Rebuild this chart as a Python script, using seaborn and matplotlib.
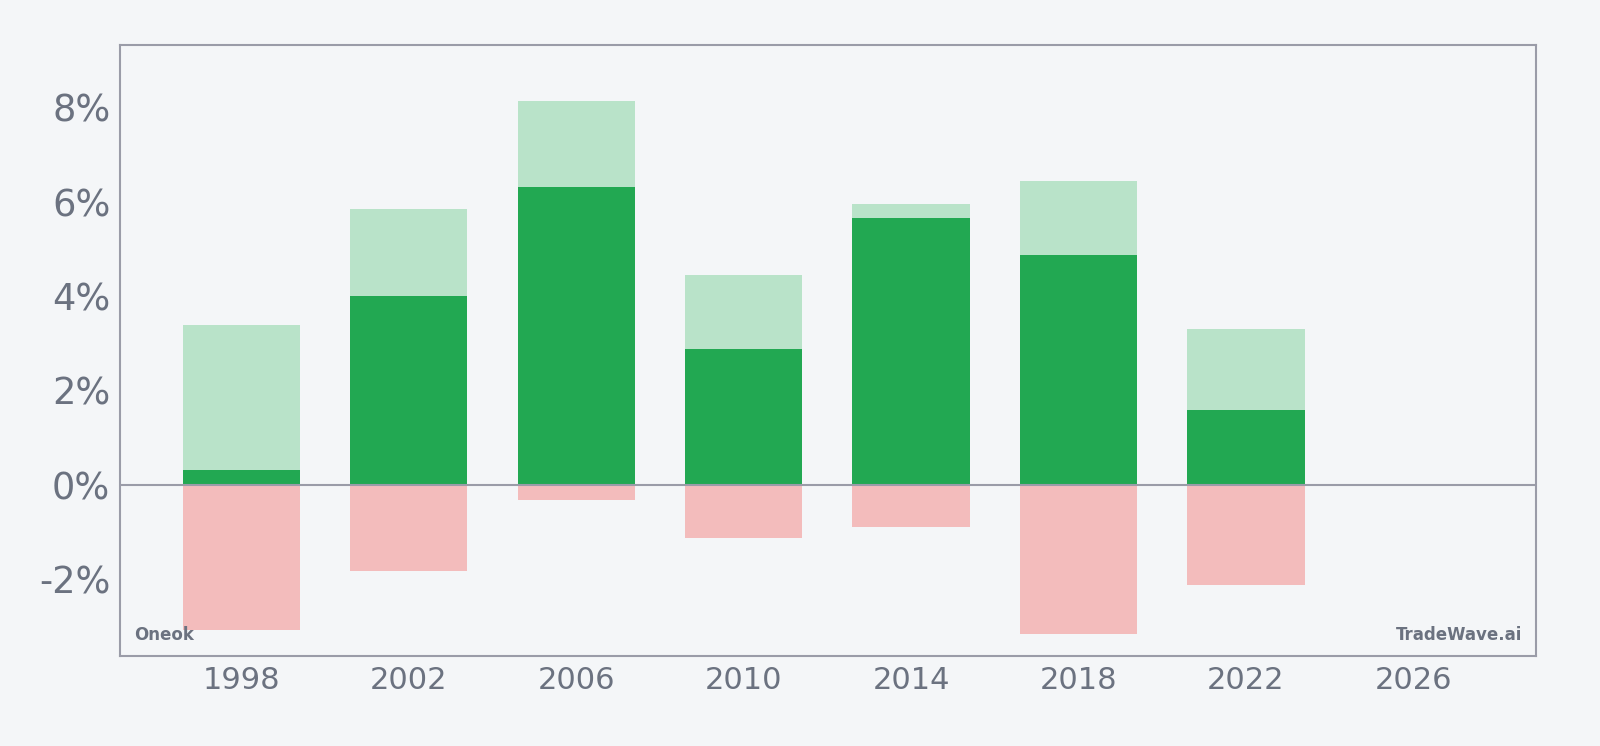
import matplotlib
matplotlib.use("Agg")
import matplotlib.pyplot as plt
import seaborn as sns
import pandas as pd
from matplotlib.ticker import FuncFormatter

# Data (percent)
years = [1998, 2002, 2006, 2010, 2014, 2018, 2022]
upper = [3.39, 5.84, 8.14, 4.44, 5.95, 6.44, 3.30]   # light green
net = [0.31, 4.01, 6.31, 2.88, 5.65, 4.88, 1.58]     # dark green
lower = [-3.07, -1.83, -0.33, -1.13, -0.89, -3.17, -2.13]  # pink

xticks = [1998, 2002, 2006, 2010, 2014, 2018, 2022, 2026]
yticks = [-2, 0, 2, 4, 6, 8]

BG = "#f4f6f8"
SPINE = "#9a9ca8"
TXT = "#6b7280"

sns.set_style("white")
plt.rcParams["font.family"] = ["DejaVu Sans"]

df = pd.DataFrame({"year": years, "upper": upper, "net": net, "lower": lower})

fig = plt.figure(figsize=(16, 7.46), dpi=100, facecolor=BG)
ax = fig.add_axes([0.075, 0.1206, 0.885, 0.819])
ax.set_facecolor(BG)

sns.barplot(data=df, x="year", y="upper", native_scale=True, width=0.7,
            color="#b9e3c9", saturation=1, ax=ax, linewidth=0)
sns.barplot(data=df, x="year", y="net", native_scale=True, width=0.7,
            color="#22a852", saturation=1, ax=ax, linewidth=0)
sns.barplot(data=df, x="year", y="lower", native_scale=True, width=0.7,
            color="#f3bcbc", saturation=1, ax=ax, linewidth=0)

ax.axhline(0, color=SPINE, linewidth=1.5, zorder=5)

ax.set_xlim(1995.1, 2028.93)
ax.set_ylim(-3.63, 9.32)
ax.set_xticks(xticks)
ax.set_xticklabels([str(t) for t in xticks])
ax.set_yticks(yticks)
ax.yaxis.set_major_formatter(FuncFormatter(lambda v, p: f"{int(v)}%".replace("\u2212", "-")))
ax.set_xlabel("")
ax.set_ylabel("")

ax.tick_params(axis="x", labelsize=22, colors=SPINE, labelcolor=TXT, length=5, width=1, pad=2)
ax.tick_params(axis="y", labelsize=26.5, colors=SPINE, labelcolor=TXT, length=5, width=1, pad=2)

for s in ax.spines.values():
    s.set_visible(True)
    s.set_color(SPINE)
    s.set_linewidth(1.5)

ax.text(0.01, 0.02, "Oneok", transform=ax.transAxes, fontsize=12,
        fontweight="bold", color=TXT, ha="left", va="bottom", zorder=10)
ax.text(0.99, 0.02, "TradeWave.ai", transform=ax.transAxes, fontsize=12,
        fontweight="bold", color=TXT, ha="right", va="bottom", zorder=10)

fig.savefig("out.png", dpi=100, facecolor=BG)
